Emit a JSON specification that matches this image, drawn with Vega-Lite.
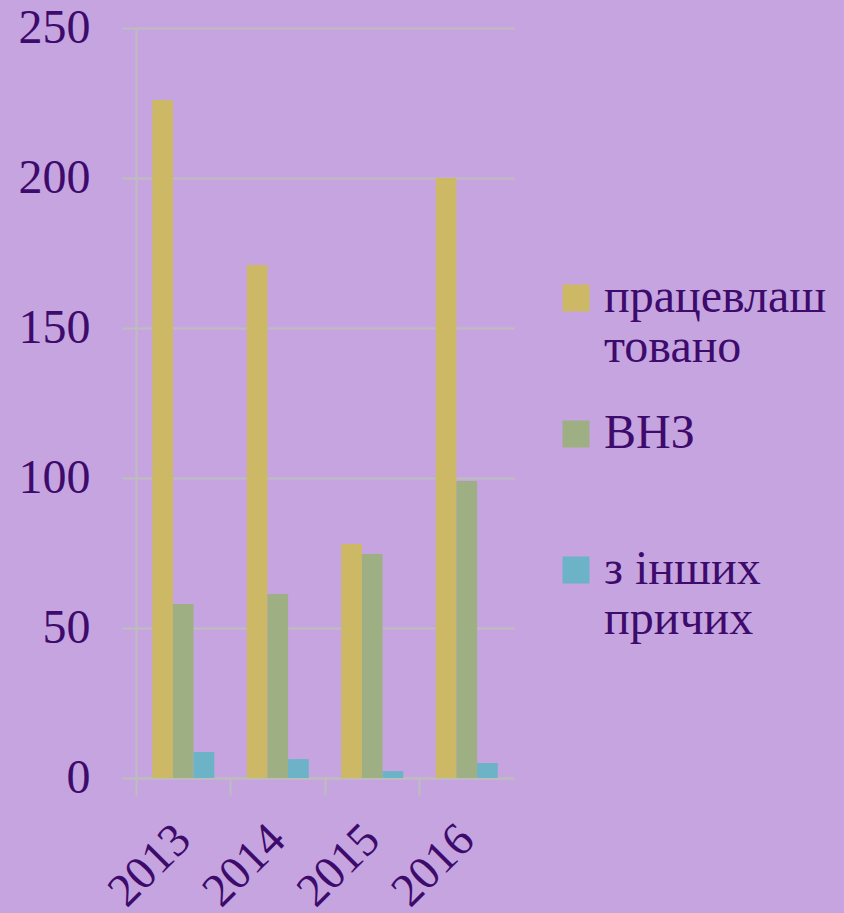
{
  "$schema": "https://vega.github.io/schema/vega-lite/v6.json",
  "width": 378,
  "height": 750,
  "autosize": {"type": "none"},
  "padding": {"left": 136, "top": 28, "right": 330, "bottom": 135},
  "background": "#C6A4E0",
  "data": {
    "values": [
      {"year": "2013", "category": "працевлаштовано", "value": 226},
      {"year": "2013", "category": "ВНЗ", "value": 58},
      {"year": "2013", "category": "з інших причих", "value": 8.7},
      {"year": "2014", "category": "працевлаштовано", "value": 171},
      {"year": "2014", "category": "ВНЗ", "value": 61.3},
      {"year": "2014", "category": "з інших причих", "value": 6.3},
      {"year": "2015", "category": "працевлаштовано", "value": 78},
      {"year": "2015", "category": "ВНЗ", "value": 74.7},
      {"year": "2015", "category": "з інших причих", "value": 2.3},
      {"year": "2016", "category": "працевлаштовано", "value": 200},
      {"year": "2016", "category": "ВНЗ", "value": 99},
      {"year": "2016", "category": "з інших причих", "value": 5}
    ]
  },
  "mark": {"type": "bar"},
  "encoding": {
    "x": {
      "field": "year", "type": "nominal",
      "scale": {"paddingInner": 0, "paddingOuter": 0},
      "axis": {
        "title": null, "bandPosition": 0, "labelAngle": -45, "labelAlign": "right",
        "labelBaseline": "middle", "labelOffset": 0, "labelPadding": 37,
        "tickSize": 17, "tickWidth": 2, "tickColor": "#BDBDBD",
        "domainColor": "#BDBDBD", "domainWidth": 2,
        "labelFont": "Liberation Serif", "labelFontSize": 47, "labelColor": "#3D0B6C"
      }
    },
    "xOffset": {
      "field": "category", "type": "nominal",
      "sort": ["працевлаштовано", "ВНЗ", "з інших причих"],
      "scale": {"paddingInner": 0, "paddingOuter": 0.786}
    },
    "y": {
      "field": "value", "type": "quantitative",
      "scale": {"domain": [0, 250]},
      "axis": {
        "title": null, "values": [0, 50, 100, 150, 200, 250],
        "grid": true, "gridColor": "#BDBDBD", "gridWidth": 2,
        "tickSize": 14, "tickWidth": 2, "tickColor": "#BDBDBD",
        "domainColor": "#BDBDBD", "domainWidth": 2,
        "labelPadding": 32, "labelFont": "Liberation Serif", "labelFontSize": 48, "labelColor": "#3D0B6C"
      }
    },
    "color": {
      "field": "category", "type": "nominal",
      "sort": ["працевлаштовано", "ВНЗ", "з інших причих"],
      "scale": {"domain": ["працевлаштовано", "ВНЗ", "з інших причих"], "range": ["#CDB866", "#9EB083", "#6CB3C8"]},
      "legend": {
        "title": null, "orient": "none", "legendX": 416, "legendY": 246,
        "symbolType": "square", "symbolSize": 729, "symbolStrokeWidth": 0, "symbolOpacity": 1,
        "labelFont": "Liberation Serif", "labelFontSize": 48, "labelColor": "#3D0B6C",
        "labelLimit": 0, "labelOffset": 4, "rowPadding": 38, "gridAlign": "all", "labelBaseline": "middle",
        "labelExpr": "datum.label == 'працевлаштовано' ? ['працевлаш', 'товано'] : datum.label == 'з інших причих' ? ['з інших', 'причих'] : datum.label"
      }
    }
  },
  "config": {"view": {"stroke": null}}
}
